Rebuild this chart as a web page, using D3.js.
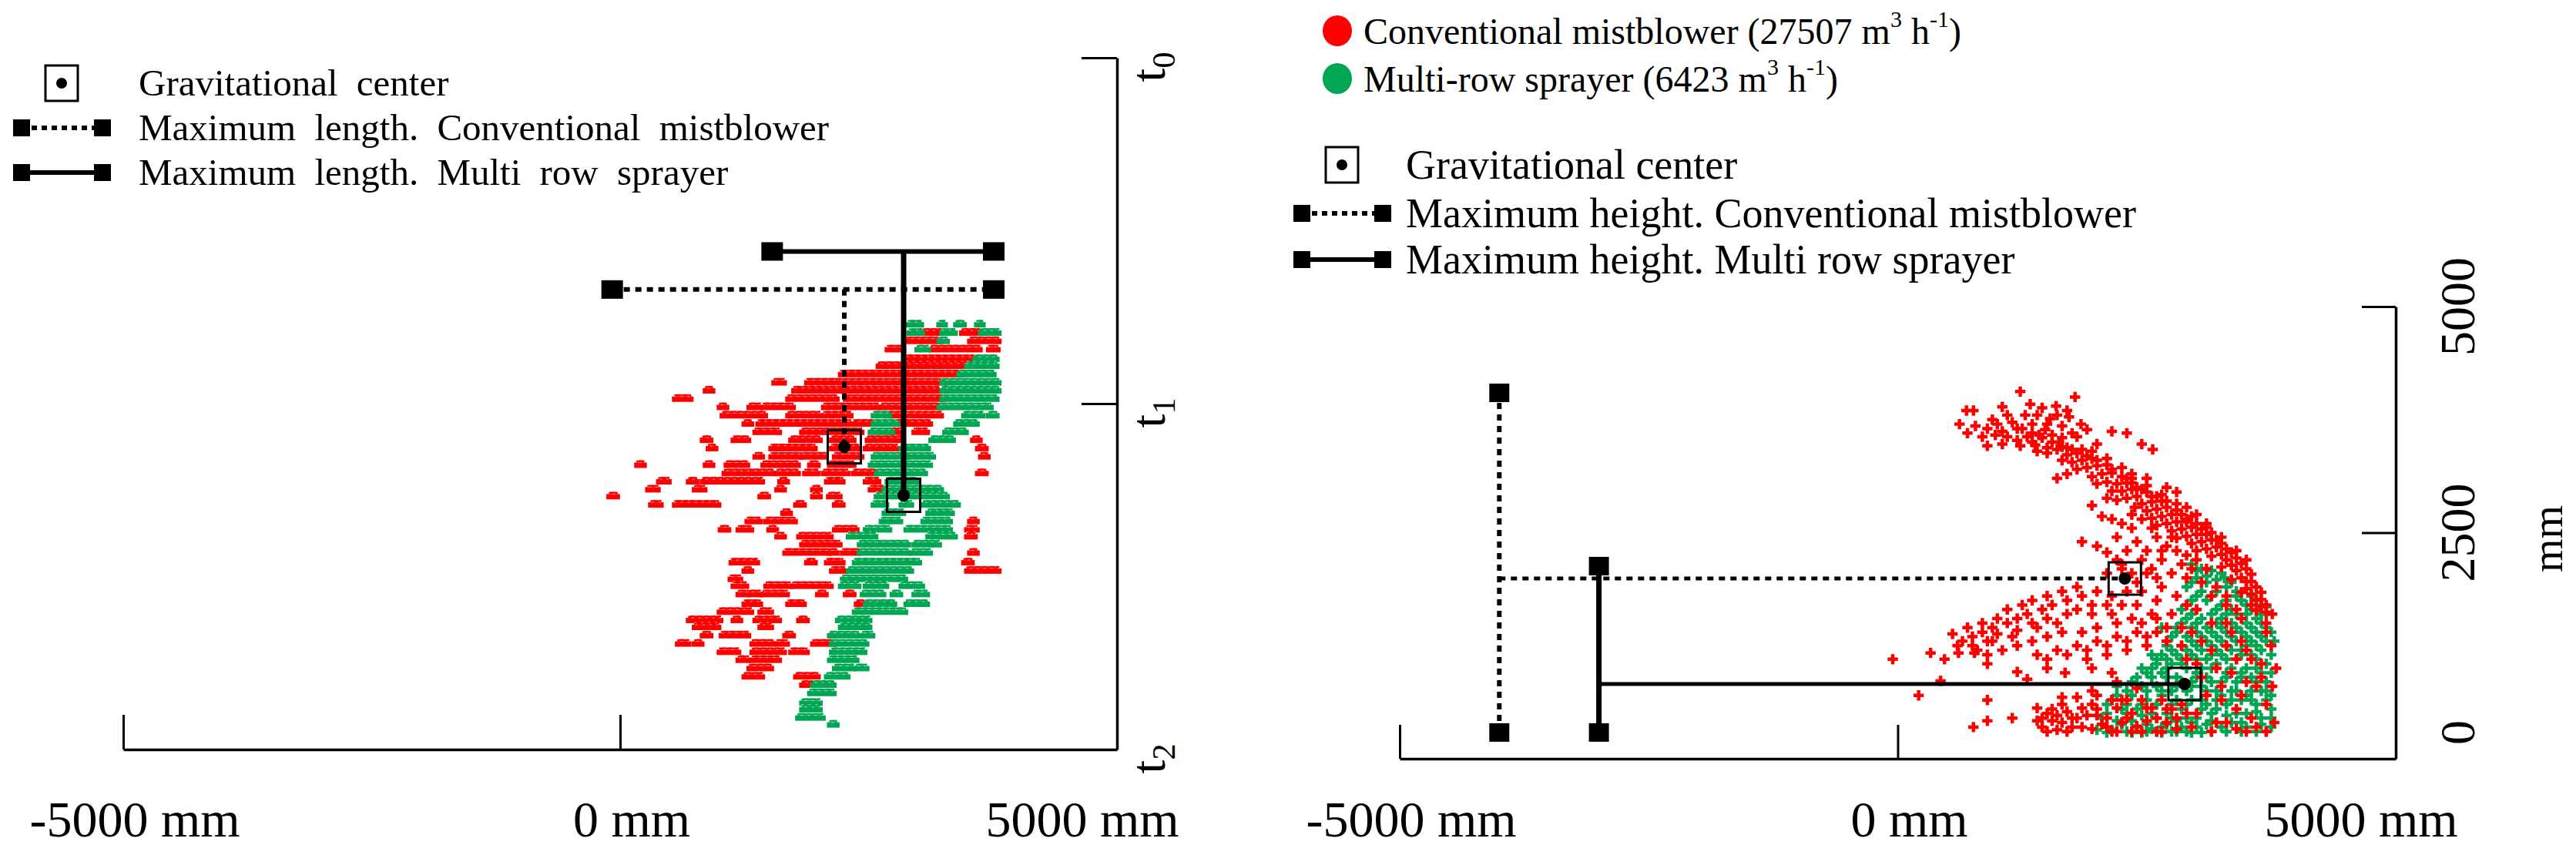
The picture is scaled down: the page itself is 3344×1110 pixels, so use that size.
<!DOCTYPE html>
<html><head><meta charset="utf-8">
<script src="https://cdn.jsdelivr.net/npm/d3@7/dist/d3.min.js"></script>
<style>
body{margin:0;background:#fff}
text{font-family:"Liberation Serif","Times New Roman",serif;fill:#000}
</style></head>
<body><svg id="chart" width="3344" height="1110"></svg>
<script>
// ---------------- DATA ----------------
const xTickValues = [-5000, 0];
const xLabelValues = [-5000, 0, 5000];
const xLabelTexts = ["-5000 mm", "0 mm", "5000 mm"];
const timeTickValues = [0, 1];
const timeLabelValues = [0, 1, 2];
const timeLabelSubs = ["0", "1", "2"];
const heightTickValues = [5000, 2500];
const heightLabelValues = [5000, 2500, 0];
const heightLabelTexts = ["5000", "2500", "0"];

// left panel: horizontal runs of droplets [time, x start (mm), x end (mm)]
const leftRedRuns = [
[0.795,3060,3220],[0.795,3450,3640],
[0.819,2890,3200],[0.819,3530,3800],
[0.843,2700,2840],[0.843,3140,3610],[0.843,3720,3790],
[0.871,2890,3560],
[0.891,2610,3500],
[0.915,2230,3420],
[0.939,1560,1640],[0.939,1890,3250],
[0.962,870,920],[0.962,1760,3200],
[0.986,560,700],[0.986,1700,2170],[0.986,2280,3250],
[1.010,1010,1060],[1.010,1310,1400],[1.010,1450,1730],[1.010,2060,2590],[1.010,2640,3220],
[1.034,1040,1450],[1.034,1700,2000],[1.034,2060,2310],[1.034,2700,3220],
[1.058,1260,1310],[1.058,1400,2310],[1.058,2360,2530],[1.058,2780,3110],
[1.082,1370,1590],[1.082,1840,2420],[1.082,2720,2810],[1.082,2970,3080],
[1.105,840,900],[1.105,1150,1280],[1.105,1730,2000],[1.105,2140,2340],[1.105,2500,2830],[1.105,3560,3610],
[1.129,900,950],[1.129,1530,1950],[1.129,2140,2390],[1.129,2480,2780],[1.129,3610,3670],
[1.153,1370,1420],[1.153,1530,1810],[1.153,1840,2060],[1.153,2170,2420],[1.153,3640,3690],
[1.177,180,230],[1.177,870,920],[1.177,1080,1270],[1.177,1450,1780],[1.177,1920,1980],[1.177,2120,2340],
[1.201,1060,1530],[1.201,1590,1780],[1.201,1870,1980],[1.201,2060,2280],[1.201,2360,2560],[1.201,3610,3670],
[1.225,400,480],[1.225,700,760],[1.225,840,1420],[1.225,1620,1670],[1.225,2090,2230],[1.225,2480,2590],
[1.248,290,370],[1.248,760,840],[1.248,1590,1640],[1.248,1950,2000],[1.248,2530,2640],
[1.268,-100,-40],[1.268,1420,1480],[1.268,1950,2000],[1.268,2110,2200],
[1.292,320,400],[1.292,560,980],[1.292,1780,1840],[1.292,2170,2230],
[1.316,1650,1700],
[1.340,1290,1400],[1.340,1480,1750],[1.340,3530,3580],
[1.364,1020,1080],[1.364,1200,1310],[1.364,1510,1560],[1.364,2170,2370],[1.364,3500,3580],
[1.384,1590,1640],[1.384,1810,2110],[1.384,3500,3560],
[1.407,1840,2200],
[1.431,1670,2090],[1.431,2120,2170],[1.431,2250,2390],[1.431,3530,3580],
[1.459,1130,1370],[1.459,1890,1950],[1.459,2090,2230],[1.459,3470,3530],
[1.483,1260,1310],[1.483,2140,2250],[1.483,3500,3800],
[1.507,1120,1200],
[1.527,1150,1260],[1.527,1480,1700],[1.527,1750,2110],
[1.551,1200,1280],[1.551,1310,1400],[1.551,1450,1670],[1.551,2000,2060],[1.551,2280,2340],
[1.579,1260,1400],[1.579,1700,1840],[1.579,2390,2450],
[1.602,1010,1310],[1.602,1420,1510],
[1.626,700,1000],[1.626,1150,1200],[1.626,1370,1590],[1.626,1810,1870],
[1.646,760,980],[1.646,1420,1510],
[1.670,840,900],[1.670,1030,1280],[1.670,1670,1730],
[1.694,590,680],[1.694,760,810],[1.694,1340,1530],[1.694,1590,1670],[1.694,1950,2140],
[1.718,1010,1180],[1.718,1340,1640],[1.718,1730,1870],
[1.741,1200,1280],[1.741,1340,1590],
[1.765,1310,1510],
[1.789,1260,1420],[1.789,1780,1980],
[1.813,1840,2110]
];
const leftGreenRuns = [
[0.771,2910,3020],[0.771,3220,3260],[0.771,3390,3450],[0.771,3600,3640],
[0.795,2920,3030],[0.795,3250,3360],[0.795,3640,3800],
[0.819,3220,3280],
[0.843,3000,3090],
[0.871,3580,3780],
[0.891,3500,3780],
[0.915,3420,3750],
[0.939,3250,3800],
[0.962,3250,3800],
[0.986,3250,3780],
[1.010,3220,3720],
[1.034,2560,2700],[1.034,3470,3640],[1.034,3720,3780],
[1.058,2560,2780],[1.058,3390,3580],
[1.082,2530,2730],[1.082,3280,3470],
[1.105,3140,3340],
[1.129,2840,3090],
[1.153,2560,2890],[1.153,2920,3140],
[1.177,2530,3110],
[1.201,2590,3060],
[1.225,2700,2970],
[1.248,2670,3220],
[1.268,2590,3280],
[1.292,2560,2670],[1.292,2840,2920],[1.292,3060,3390],
[1.316,2670,2840],[1.316,3110,3330],
[1.340,2640,2810],[1.340,3060,3310],
[1.364,2480,2700],[1.364,2890,3310],
[1.384,2310,2560],[1.384,3110,3360],
[1.407,2420,2890],[1.407,2970,3200],
[1.431,2420,2890],[1.431,2950,3110],
[1.459,2370,3000],
[1.483,2310,2920],
[1.507,2250,2860],
[1.527,2230,2390],[1.527,2480,2670],[1.527,2840,3030],
[1.551,2450,2640],[1.551,2750,2810],[1.551,2970,3080],
[1.579,2480,2750],[1.579,2890,3080],
[1.602,2370,2860],
[1.626,2200,2500],
[1.646,2230,2500],
[1.670,2120,2390],[1.670,2450,2530],
[1.694,2140,2470],
[1.718,2140,2450],
[1.741,2120,2370],
[1.765,2170,2340],[1.765,2390,2470],
[1.789,2090,2280],
[1.813,1950,2140],
[1.837,1920,2140],
[1.865,1840,2000],
[1.884,1840,2000],
[1.908,1800,2030],
[1.928,2120,2170]
];
// left panel: gravitational centres [x mm, time]
const leftCentres = [[2256,1.125],[2853,1.265]];
// left panel: maximum length [time, x start, x end, x of centre, time of centre]
const leftMaxConv = [0.67,-80,3760,2256,1.125];
const leftMaxMulti = [0.56,1530,3760,2853,1.265];

// right panel: droplet positions [x mm, height mm]
const rightRedPoints = [
[1230,4060],[1780,4000],[690,3850],[760,3850],[1050,3890],[1330,3920],[1590,3900],[1280,3800],[1400,3800],[1530,3760],
[1600,3800],[1720,3780],[1840,3700],[620,3700],[780,3680],[900,3650],[1000,3700],[1150,3720],[1250,3650],[1350,3700],
[1480,3640],[1650,3680],[1900,3640],[850,3560],[980,3580],[1100,3560],[1200,3520],[1300,3560],[1420,3580],[1550,3580],
[1800,3560],[2150,3620],[900,3460],[1050,3480],[1230,3460],[1380,3470],[1500,3440],[1620,3500],[1700,3440],[2000,3480],
[2450,3480],[2560,3420],
[1100,3800],[1450,3880],[1700,3850],[950,3750],[1200,3650],[1500,3700],[1750,3600],[700,3600],[1050,3620],[1350,3500],
[1650,3550],[2300,3600],
[1400,3400],[1500,3380],[1600,3420],[1700,3360],[1800,3380],[1650,3300],[1750,3280],[1850,3300],[1950,3320],[1900,3220],
[2000,3240],[1800,3200],[2050,3150],[1950,3120],[2150,3160],[2100,3060],[2000,3040],[2200,3040],[2250,2960],[2150,2960],
[2350,2980],[2300,2880],[2400,2900],[2200,2860],[2450,2820],[2550,2840],[2380,2780],[2500,2740],[2600,2760],[2650,2680],
[2550,2660],[2750,2700],[2700,2600],[2800,2620],[2600,2580],[2850,2540],[2750,2520],[2950,2560],[2900,2460],[3000,2480],
[2800,2440],[3050,2400],[2950,2380],[3150,2420],[3100,2320],[3200,2340],[3000,2300],[3250,2260],[3150,2240],[3300,2200],
[3350,2140],[3250,2120],[3400,2080],[3450,2000],[3350,1980],[3500,1960],[3500,1880],[3550,1820],[3450,1840],[3600,1760],
[3550,1700],[3650,1680],[3600,1640],[3760,1600],
[1350,3600],[1450,3550],[1550,3500],[1650,3450],[1750,3420],[1850,3420],[1900,3350],[2000,3300],[2100,3250],[2150,3200],
[2250,3120],[2300,3100],[2350,3050],[2400,3000],[2500,2950],[2550,2900],[2650,2850],[2700,2780],[2800,2750],[2850,2700],
[2900,2620],[3000,2600],[3050,2540],[3100,2480],[3150,2500],[3200,2420],[3250,2380],[3300,2320],[3350,2280],[3400,2220],
[3450,2160],[3500,2100],[3550,2040],[3550,1960],[3600,1900],[3650,1840],[3650,1760],[3700,1700],[3700,1620],[3500,2200],
[3400,2300],[3250,2450],[3100,2560],[2950,2680],[2800,2820],[2650,2920],[2500,3020],[2350,3100],[2250,3220],[2100,3320],
[1950,3400],
[1700,3150],[1600,3100],[2350,3150],[2500,3100],[2300,3050],[2450,2980],[2600,2900],[2700,2850],[2100,2880],[1950,2800],
[2700,3000],[2800,2950],[2900,2780],[2900,2650],[3000,2700],[3100,2600],[2450,2650],[2350,2550],[2250,2600],[2050,2680],
[2200,2450],[2400,2400],[2600,2450],[2700,2350],[2800,2300],[2500,2300],[2300,2300],[2100,2280],[1850,2400],[2000,2350],
[2200,2200],[2650,2200],[2850,2150],[2950,2100],[3100,2100],[3050,1950],[3200,1900],[3150,1800],[3300,1800],[3300,1700],
[3400,1650],
[2150,2650],[2350,2700],[2550,2550],[2750,2450],[2650,2300],[2450,2200],[2250,2150],[2900,2250],[3000,2200],[2750,2050],
[2900,2000],[2550,2100],[2400,1950],
[2100,2050],[2250,2100],[2350,2050],[2500,2050],[2600,2000],[2650,1900],[2450,1850],[2300,1850],[2150,1800],[2000,1850],
[1850,1800],[1700,1750],[1550,1700],[1450,1650],[1300,1600],[1200,1550],[1100,1500],[950,1450],[850,1400],[750,1350],
[650,1300],[600,1250],[750,1250],[900,1300],[1000,1380],[1200,1420],[1350,1500],[1500,1550],[1700,1600],[1800,1650],
[1950,1700],[2100,1700],[2400,1700],[2600,1750],[2800,1800],[2900,1700],[3000,1650],[2750,1600],[2550,1600],[2350,1550],
[2200,1500],[2000,1450],[1850,1400],[1650,1400],[1500,1350],[1350,1300],[1200,1250],[1050,1200],[900,1150],[1400,1150],
[1600,1200],[1800,1250],[2000,1300],[2200,1350],[2400,1400],[2600,1400],[2500,1250],[2300,1200],[2100,1150],[1900,1100],
[2700,1300],[2850,1450],
[1800,1900],[1650,1850],[1500,1800],[1350,1750],[1250,1700],[1100,1650],[1000,1550],[850,1500],[700,1450],[550,1380],
[1950,1600],[2150,1600],[2250,1700],[1600,1500],[1400,1450],[1150,1350],[950,1300],[800,1200],[2450,1500],[2600,1550],
[2700,1450],[2500,1350],[2300,1300],[2100,1250],[1900,1200],[1700,1150],[1500,1100],
[-50,1100],[330,1170],[470,1100],[610,1170],[900,1050],[770,1170],[210,700],[900,650],[430,860],[1200,960],
[1300,880],[1500,1000],[1680,950],[1950,1000],[2150,950],[760,350],[900,420],[1150,450],[1950,750],[2200,850],[2400,780],
[1400,560],[1500,500],[1600,480],[1700,520],[1550,420],[1650,400],[1450,350],[1600,320],[1750,350],[1800,450],
[1850,560],[1950,600],[2000,480],[2050,380],[1950,330],[2150,300],[2100,450],[2200,560],[2250,650],[2300,450],
[2400,360],[2350,300],[2500,420],[2550,560],[2600,300],[2700,400],[2650,650],[2750,550],[2800,330],[1650,680],[1800,680],
[1450,450],[1550,550],[1650,600],[1750,450],[1700,300],[1850,350],[1900,480],[2000,550],[2100,350],[2200,300],
[2250,400],[2350,500],[2450,300],[2500,560],[2600,450],[2650,300],[2700,550],[2800,450],[2850,600],[2900,500],
[1500,300],[1400,420],[2300,650],[2450,650],[2150,650],[2000,700],
[2950,1400],[3050,1300],[3150,1200],[3300,1250],[3450,1300],[3550,1100],[3200,1000],[3350,950],[3500,850],[3650,900],
[3050,900],[2900,1100],[3100,700],[3250,650],[3400,550],[3550,450],[3700,600],[3600,350],[3400,330],[3200,400],
[3000,500],[2950,350],[3700,1500],[3750,1250],[3300,1500],[3150,1500],[3450,1550],[3800,1000],[3760,800],[3780,400],
[3350,1400],[3500,1200],[3650,1050],[3250,800],[3450,700],[3600,800],[3300,400],[3500,300],[3700,300],[3150,300],
[3000,1050],[2850,1250],[3700,1400],[3400,1100]
];
const rightGreenPoints = [
[2950,2150],[3050,2100],[3150,2080],[3250,2050],[3000,2000],[3100,1950],[3200,1980],[3350,1950],[2900,1900],[3050,1850],
[3200,1850],[3400,1850],[3550,1800],[2950,1750],[3100,1750],[3300,1750],[3450,1750],[3650,1700],[2850,1650],[3000,1650],
[3200,1650],[3350,1650],[3550,1650],[3700,1600],[2900,1550],[3050,1550],[3250,1550],[3400,1600],[3600,1550],[2800,1450],
[2950,1450],[3100,1450],[3250,1450],[3400,1450],[3550,1450],[3700,1450],[2750,1350],[2900,1350],[3050,1350],[3200,1350],
[3350,1350],[3500,1350],[3650,1350],[3780,1300],
[2700,1250],[2850,1250],[3000,1250],[3150,1250],[3300,1250],[3450,1200],[3600,1250],[3750,1150],[2650,1150],[2800,1150],
[2950,1150],[3100,1100],[3250,1150],[3400,1100],[3550,1150],[3700,1050],[2600,1050],[2750,1050],[2900,1000],[3050,1000],
[3200,1050],[3350,1000],[3500,1000],[3650,950],[2500,950],[2650,950],[2800,900],[2950,850],[3100,900],[3250,850],
[3400,850],[3550,900],[3700,850],
[2350,850],[2450,800],[2600,800],[2750,750],[2900,750],[3050,800],[3200,750],[3350,750],[3500,700],[3650,750],
[3750,700],[2200,700],[2350,700],[2500,650],[2650,700],[2800,650],[2950,650],[3100,600],[3300,600],[3450,650],
[3600,600],[3750,550],[2100,600],[2250,550],[2400,550],[2550,500],[2700,500],[2850,550],[3000,450],[3150,500],
[3300,480],[3500,500],[3650,450],[2050,450],[2200,420],[2350,420],[2500,380],[2650,350],[2800,420],[2950,400],
[3100,380],[3250,350],[3450,400],[3600,300],[3750,350],[2000,320],[2150,320],[2300,300],[2450,290],[2600,300],
[2750,300],[2900,300],[3050,290],[3300,300],[2200,800],[2450,1000],[2550,1150],[2650,1450],
[3000,2080],[3100,2020],[3280,2000],[2950,1950],[3300,1900],[3500,1880],[3000,1800],[3150,1800],[3400,1800],[3600,1750],
[2900,1700],[3250,1700],[3500,1700],[3700,1680],[2950,1600],[3150,1600],[3300,1600],[3500,1600],[3650,1600],[2850,1500],
[3000,1500],[3200,1500],[3350,1500],[3500,1500],[3650,1500],[2800,1400],[3000,1400],[3150,1400],[3300,1400],[3450,1400],
[3600,1400],[3750,1400],[2700,1300],[2950,1300],[3100,1300],[3250,1300],[3400,1300],[3550,1300],[3700,1300],[2750,1200],
[2900,1200],[3050,1200],[3200,1200],[3350,1200],[3500,1250],[3650,1200],[2600,1100],[2700,1100],[2850,1100],[3000,1100],
[3150,1150],[3300,1100],[3450,1150],[3600,1100],[2550,1000],[2700,1000],[2850,1050],[3000,950],[3150,1000],[3300,950],
[3450,950],[3600,1000],[3750,950],[2400,900],[2550,900],[2700,900],[2850,850],[3000,900],[3150,850],[3300,900],
[3450,900],[3600,850],[2300,750],[2500,750],[2650,750],[2800,800],[2950,800],[3100,750],[3250,700],[3400,750],
[3550,750],[3700,750],[2150,650],[2300,600],[2450,600],[2600,600],[2750,600],[2900,600],[3050,650],[3200,650],
[3350,650],[3550,650],[3700,650],[2100,500],[2300,500],[2450,480],[2600,450],[2750,450],[2900,450],[3050,550],
[3200,550],[3400,500],[3600,520],[3750,450],[2050,380],[2250,380],[2400,350],[2550,330],[2700,380],[2850,350],
[3000,350],[3150,420],[3350,400],[3500,350],[3650,380],[2100,290],[2350,290],[2500,300],[2650,290],[2800,300],
[2950,290],[3150,300],[3450,300],[3700,300]
];
// right panel: gravitational centres [x mm, height mm]
const rightCentres = [[2280,1993],[2880,826]];
// right panel: maximum height [x, height bottom, height top, height of centre, x of centre]
const rightMaxConv = [-4000,290,4046,1993,2280];
const rightMaxMulti = [-3000,290,2130,826,2880];

const legendLeft = ["Gravitational center","Maximum length. Conventional mistblower","Maximum length. Multi row sprayer"];
const legendRight = ["Gravitational center","Maximum height. Conventional mistblower","Maximum height. Multi row sprayer"];
const seriesNames = ["Conventional mistblower (27507 m", "Multi-row sprayer (6423 m"];

const RED = "#ff0000", GREEN = "#00a651";

// ---------------- DRAW ----------------
const svg = d3.select("#chart");
const xL = d3.scaleLinear().domain([-5000,5000]).range([160,1450]);
const yL = d3.scaleLinear().domain([0,2]).range([75,973]);
const xR = d3.scaleLinear().domain([-5000,5000]).range([1817,3110]);
const yR = d3.scaleLinear().domain([0,5000]).range([985,398]);

function styleAxis(g){
  g.selectAll("path.domain").attr("stroke","#000").attr("stroke-width",3.5);
  g.selectAll(".tick line").attr("stroke","#000").attr("stroke-width",3);
  g.selectAll(".tick text").remove();
}

svg.append("g").attr("transform",`translate(0,${yL(2)})`)
  .call(d3.axisBottom(xL).tickValues(xTickValues).tickSize(-45).tickSizeOuter(0)).call(styleAxis);
svg.append("g").attr("transform",`translate(${xL(5000)},0)`)
  .call(d3.axisRight(yL).tickValues(timeTickValues).tickSize(-46).tickSizeOuter(0)).call(styleAxis);
svg.append("g").attr("transform",`translate(0,${yR(0)})`)
  .call(d3.axisBottom(xR).tickValues(xTickValues).tickSize(-44).tickSizeOuter(0)).call(styleAxis);
svg.append("g").attr("transform",`translate(${xR(5000)},0)`)
  .call(d3.axisRight(yR).tickValues(heightTickValues).tickSize(-44).tickSizeOuter(0)).call(styleAxis);

// x labels
const xLabelShift = [15, 15, -45];
[xL, xR].forEach(sc => {
  svg.append("g").selectAll("text").data(xLabelValues).join("text")
    .attr("x",(d,i)=>sc(d)+xLabelShift[i]).attr("y",1086)
    .attr("text-anchor","middle").attr("font-size",66)
    .text((d,i)=>xLabelTexts[i]);
});
// time labels
const tl = svg.append("g").selectAll("text").data(timeLabelValues).join("text")
  .attr("transform",d=>`translate(1512,${yL(d)+12}) rotate(-90)`)
  .attr("text-anchor","middle").attr("font-size",64);
tl.append("tspan").text("t");
tl.append("tspan").attr("font-size",42).attr("dy","0.32em").text((d,i)=>timeLabelSubs[i]);
// height labels
svg.append("g").selectAll("text").data(heightLabelValues).join("text")
  .attr("transform",d=>`translate(3212,${d===0 ? yR(d)-18 : yR(d)}) rotate(-90)`)
  .attr("text-anchor",d=>d===0?"start":"middle").attr("font-size",64)
  .text((d,i)=>heightLabelTexts[i]);
svg.append("text").attr("transform",`translate(3326,${yR(2500)+8}) rotate(-90)`)
  .attr("text-anchor","middle").attr("font-size",56).text("mm");

// left scatter runs
function drawRuns(runs,color){
  const g = svg.append("g");
  g.selectAll("rect.b").data(runs).join("rect").attr("class","b")
    .attr("x",d=>xL(d[1])-5).attr("width",d=>Math.max(10,xL(d[2])-xL(d[1])+10))
    .attr("y",d=>yL(d[0])-3).attr("height",7).attr("fill",color);
  g.selectAll("rect.t").data(runs).join("rect").attr("class","t")
    .attr("x",d=>xL(d[1])-2).attr("width",d=>Math.max(4,xL(d[2])-xL(d[1])+4))
    .attr("y",d=>yL(d[0])-6).attr("height",3).attr("fill",color)
    .attr("stroke","#fff").attr("stroke-width",0.6).attr("stroke-dasharray","3,6");
}
drawRuns(leftRedRuns,RED);
drawRuns(leftGreenRuns,GREEN);

// right scatter points
const cross = d3.symbol().type(d3.symbolCross).size(100);
svg.append("g").selectAll("path").data(rightGreenPoints).join("path")
  .attr("d",cross).attr("transform",d=>`translate(${xR(d[0])},${yR(d[1])})`).attr("fill",GREEN);
svg.append("g").selectAll("path").data(rightRedPoints).join("path")
  .attr("d",cross).attr("transform",d=>`translate(${xR(d[0])},${yR(d[1])})`).attr("fill",RED);

// helpers
function endMarker(g,x,y,w,h){
  g.append("rect").attr("x",x-w/2).attr("y",y-h/2).attr("width",w).attr("height",h).attr("fill","#000");
}
function centreBox(g,x,y,s,r){
  g.append("rect").attr("x",x-s/2).attr("y",y-s/2).attr("width",s).attr("height",s)
    .attr("fill","none").attr("stroke","#000").attr("stroke-width",3);
  g.append("circle").attr("cx",x).attr("cy",y).attr("r",r).attr("fill","#000");
}
function seg(g,x1,y1,x2,y2,dotted,w){
  g.append("line").attr("x1",x1).attr("y1",y1).attr("x2",x2).attr("y2",y2)
   .attr("stroke","#000").attr("stroke-width",w)
   .attr("stroke-dasharray",dotted?"8,7":null);
}

// left max-length lines
const gl = svg.append("g");
[[leftMaxConv,true],[leftMaxMulti,false]].forEach(([m,dot])=>{
  const y = yL(m[0]);
  seg(gl,xL(m[1]),y,xL(m[2]),y,dot,6);
  seg(gl,xL(m[3]),y,xL(m[3]),yL(m[4]),dot,dot?6:7);
  endMarker(gl,xL(m[1]),y,28,24); endMarker(gl,xL(m[2]),y,28,24);
});
leftCentres.forEach(c=>centreBox(gl,xL(c[0]),yL(c[1]),43,8));

// right max-height lines
const gr = svg.append("g");
[[rightMaxConv,true],[rightMaxMulti,false]].forEach(([m,dot])=>{
  const x = xR(m[0]);
  seg(gr,x,yR(m[1]),x,yR(m[2]),dot,dot?6:7);
  seg(gr,x,yR(m[3]),xR(m[4]),yR(m[3]),dot,5);
  endMarker(gr,x,yR(m[1]),26,24); endMarker(gr,x,yR(m[2]),26,24);
});
rightCentres.forEach(c=>centreBox(gr,xR(c[0]),yR(c[1]),42,8));

// legends
function legendBlock(x0,textX,rows,texts,fs,ws){
  const g = svg.append("g");
  g.append("rect").attr("x",x0+62-21).attr("y",rows[0]-23).attr("width",42).attr("height",46)
    .attr("fill","none").attr("stroke","#000").attr("stroke-width",3);
  g.append("circle").attr("cx",x0+62).attr("cy",rows[0]).attr("r",7).attr("fill","#000");
  [1,2].forEach(i=>{
    g.append("line").attr("x1",x0+10).attr("x2",x0+115).attr("y1",rows[i]).attr("y2",rows[i])
      .attr("stroke","#000").attr("stroke-width",6).attr("stroke-dasharray",i===1?"7,6":null);
    endMarker(g,x0+10,rows[i],22,22); endMarker(g,x0+115,rows[i],22,22);
  });
  texts.forEach((t,i)=>{
    g.append("text").attr("x",textX).attr("y",rows[i]+fs/3).attr("font-size",fs)
      .attr("word-spacing",ws).text(t);
  });
}
legendBlock(18,180,[108,166,224],legendLeft,49,12);
legendBlock(1680,1825,[214,277,337],legendRight,54,0);

// series legend
const seriesColors = [RED, GREEN];
const seriesY = [40, 102];
const sg = svg.append("g");
seriesNames.forEach((name,i)=>{
  sg.append("ellipse").attr("cx",1736).attr("cy",seriesY[i]).attr("rx",19).attr("ry",20).attr("fill",seriesColors[i]);
  const t = sg.append("text").attr("x",1770).attr("y",seriesY[i]+17).attr("font-size",48);
  t.append("tspan").text(name);
  t.append("tspan").attr("font-size",30).attr("dy","-0.75em").text("3");
  t.append("tspan").attr("dy","0.47em").text(" h");
  t.append("tspan").attr("font-size",30).attr("dy","-0.75em").text("-1");
  t.append("tspan").attr("dy","0.47em").text(")");
});
</script></body></html>
